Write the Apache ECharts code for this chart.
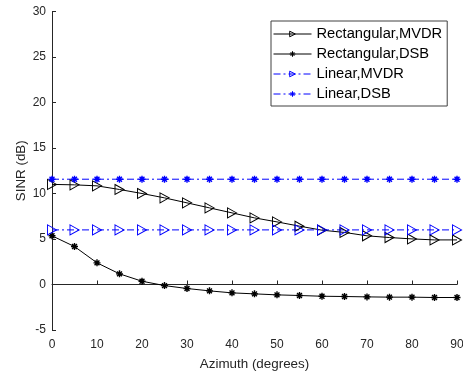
<!DOCTYPE html>
<html>
<head>
<meta charset="utf-8">
<script src="https://cdn.jsdelivr.net/npm/echarts@6/dist/echarts.min.js"></script>
<style>
  html, body {margin: 0; padding: 0; background: #fff;}
  #chart {width: 463px; height: 371px;}
</style>
</head>
<body>
<div id="chart"></div>
<script>
// azimuth in degrees
var azimuth = [0, 5, 10, 15, 20, 25, 30, 35, 40, 45, 50, 55, 60, 65, 70, 75, 80, 85, 90];
var rectMvdr = [11.0, 10.95, 10.84, 10.44, 10.0, 9.52, 8.97, 8.42, 7.87, 7.32, 6.88, 6.41, 5.97, 5.72, 5.35, 5.16, 5.01, 4.9, 4.9];
var rectDsb = [5.35, 4.17, 2.38, 1.17, 0.36, -0.12, -0.44, -0.70, -0.92, -1.03, -1.14, -1.21, -1.29, -1.32, -1.36, -1.39, -1.39, -1.43, -1.43];
var linMvdr = [6.0, 6.0, 6.0, 6.0, 6.0, 6.0, 6.0, 6.0, 6.0, 6.0, 6.0, 6.0, 6.0, 6.0, 6.0, 6.0, 6.0, 6.0, 6.0];
var linDsb = [11.57, 11.57, 11.57, 11.57, 11.57, 11.57, 11.57, 11.57, 11.57, 11.57, 11.57, 11.57, 11.57, 11.57, 11.57, 11.57, 11.57, 11.57, 11.57];
var names = ['Rectangular,MVDR', 'Rectangular,DSB', 'Linear,MVDR', 'Linear,DSB'];

var tri = 'path://M0,0L10,5L0,10Z';
var star = 'path://M0,5L10,5M5,0L5,10M1.5,1.5L8.5,8.5M8.5,1.5L1.5,8.5';
var font = 'Liberation Sans, Arial, Helvetica, sans-serif';
var axisCol = '#262626';

function pts(ys) {
  return azimuth.map(function (x, i) { return [x, ys[i]]; });
}

function mk(name, ys, color, symbol, size, bw, dashed) {
  return {
    name: name,
    type: 'line',
    data: pts(ys),
    symbol: symbol,
    symbolSize: size,
    showAllSymbol: true,
    lineStyle: {color: color, width: 1, type: dashed ? [7, 3, 2, 3] : 'solid'},
    itemStyle: {color: 'rgba(0,0,0,0)', borderColor: color, borderWidth: bw},
    emphasis: {disabled: true}
  };
}

var myChart = echarts.init(document.getElementById('chart'));
myChart.setOption({
  animation: false,
  textStyle: {fontFamily: font},
  grid: {left: 52, right: 6, top: 11.5, bottom: 41, containLabel: false, outerBoundsMode: 'none'},
  legend: {
    data: names,
    orient: 'vertical',
    left: 271,
    top: 21,
    itemWidth: 38,
    itemHeight: 7,
    itemGap: 4,
    padding: [5, 5, 4, 2],
    borderColor: '#404040',
    borderWidth: 1,
    backgroundColor: '#fff',
    lineStyle: {width: 1},
    itemStyle: {color: 'rgba(0,0,0,0)', borderWidth: 1},
    textStyle: {color: '#000', fontSize: 14.7, fontFamily: font, lineHeight: 16},
    selectedMode: false
  },
  xAxis: {
    type: 'value',
    min: 0,
    max: 90,
    interval: 10,
    name: 'Azimuth (degrees)',
    nameLocation: 'middle',
    nameGap: 28,
    nameMoveOverlap: false,
    nameTextStyle: {color: axisCol, fontSize: 13.4, fontFamily: font},
    axisLine: {lineStyle: {color: axisCol, width: 1}},
    axisTick: {inside: true, length: 4, lineStyle: {color: axisCol}},
    axisLabel: {color: axisCol, fontSize: 12, margin: 9},
    splitLine: {show: false}
  },
  yAxis: {
    type: 'value',
    min: -5,
    max: 30,
    interval: 5,
    name: 'SINR (dB)',
    nameLocation: 'middle',
    nameGap: 24,
    nameMoveOverlap: false,
    nameTextStyle: {color: axisCol, fontSize: 13.4, fontFamily: font},
    axisLine: {show: true, lineStyle: {color: axisCol, width: 1}},
    axisTick: {show: true, inside: true, length: 4, lineStyle: {color: axisCol}},
    axisLabel: {color: axisCol, fontSize: 12, margin: 6},
    splitLine: {show: false}
  },
  series: [
    mk(names[0], rectMvdr, '#000000', tri, [9, 10], 1, false),
    mk(names[1], rectDsb, '#000000', star, 7, 1.4, false),
    mk(names[2], linMvdr, '#0000ff', tri, [9, 10], 1, true),
    mk(names[3], linDsb, '#0000ff', star, 7, 1.4, true)
  ]
});
</script>
</body>
</html>
